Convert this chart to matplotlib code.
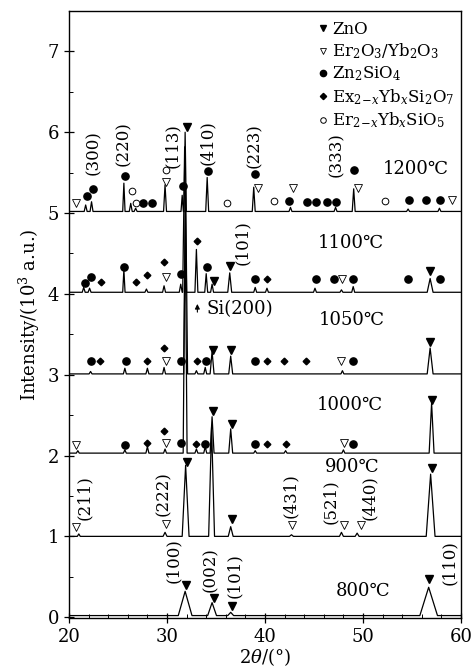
import matplotlib
matplotlib.use("Agg")
import matplotlib.pyplot as plt
from matplotlib.lines import Line2D
from matplotlib.ticker import MultipleLocator

plt.rcParams['font.family'] = ['DejaVu Serif', 'DejaVu Sans']
plt.rcParams['mathtext.fontset'] = 'dejavuserif'

# baselines of the stacked patterns (10^3 a.u.)
temps = ['800', '900', '1000', '1050', '1100', '1200']
baselines = [0.02, 1.00, 2.03, 3.01, 4.02, 5.02]

# peaks per pattern: (2theta, height above baseline, half width at base)
peaks_800 = [(31.85, 0.30, 0.70), (34.6, 0.16, 0.45), (36.5, 0.04, 0.30), (56.7, 0.35, 0.90)]
peaks_900 = [(21.0, 0.03, 0.15), (29.8, 0.05, 0.20), (31.9, 0.88, 0.35), (34.55, 1.35, 0.30),
             (36.5, 0.12, 0.25), (42.7, 0.02, 0.20), (47.8, 0.05, 0.20), (49.4, 0.04, 0.20),
             (56.9, 0.77, 0.45)]
peaks_1000 = [(20.9, 0.03, 0.15), (25.7, 0.04, 0.15), (28.0, 0.08, 0.15), (29.8, 0.05, 0.15),
              (31.85, 3.00, 0.20), (33.0, 0.05, 0.15), (33.9, 0.08, 0.15), (34.6, 0.45, 0.20),
              (36.5, 0.30, 0.20), (39.0, 0.03, 0.15), (42.1, 0.03, 0.15), (48.0, 0.04, 0.15),
              (57.0, 0.62, 0.25)]
peaks_1050 = [(22.2, 0.03, 0.15), (25.7, 0.07, 0.15), (28.0, 0.07, 0.15), (29.7, 0.08, 0.15),
              (31.9, 2.30, 0.20), (33.0, 0.04, 0.15), (33.9, 0.08, 0.15), (34.6, 0.28, 0.20),
              (36.5, 0.22, 0.20), (47.9, 0.04, 0.15), (56.85, 0.32, 0.30)]
peaks_1100 = [(21.5, 0.06, 0.15), (22.1, 0.05, 0.15), (25.6, 0.28, 0.12), (27.9, 0.04, 0.15),
              (29.7, 0.08, 0.15), (31.4, 0.10, 0.15), (31.8, 1.80, 0.20), (33.0, 0.53, 0.15),
              (34.0, 0.23, 0.15), (34.6, 0.10, 0.15), (36.4, 0.24, 0.20), (39.0, 0.06, 0.15),
              (40.2, 0.05, 0.15), (45.1, 0.05, 0.15), (47.8, 0.03, 0.15), (49.0, 0.07, 0.15),
              (56.85, 0.17, 0.30)]
peaks_1200 = [(21.7, 0.08, 0.15), (22.3, 0.12, 0.15), (25.6, 0.35, 0.12), (26.3, 0.10, 0.15),
              (26.8, 0.04, 0.15), (29.8, 0.33, 0.15), (31.55, 0.20, 0.12), (31.85, 0.98, 0.12),
              (34.1, 0.42, 0.15), (38.85, 0.30, 0.15), (42.6, 0.05, 0.15), (47.2, 0.05, 0.15),
              (49.05, 0.28, 0.15), (54.6, 0.03, 0.15), (57.8, 0.04, 0.15)]
all_peaks = [peaks_800, peaks_900, peaks_1000, peaks_1050, peaks_1100, peaks_1200]

# phase markers (2theta, intensity)
zno_pts = [(32.0, 6.06),
           (34.8, 4.16), (36.4, 4.34), (56.85, 4.28),
           (34.65, 3.30), (36.5, 3.30), (56.85, 3.40),
           (34.7, 2.55), (36.6, 2.39), (57.0, 2.69),
           (32.05, 1.92), (36.6, 1.21), (57.0, 1.84),
           (31.95, 0.40), (34.75, 0.24), (36.6, 0.14), (56.7, 0.47)]
er2o3_pts = [(20.7, 5.13), (29.9, 5.39), (39.3, 5.31), (42.9, 5.31), (49.45, 5.31), (59.05, 5.16),
             (29.9, 4.21), (47.9, 4.18),
             (29.9, 3.17), (47.8, 3.17),
             (20.7, 2.13), (29.9, 2.15), (48.1, 2.16),
             (20.7, 1.11), (29.9, 1.15), (42.8, 1.14), (48.1, 1.14), (49.8, 1.14)]
zn2sio4_pts = [(21.8, 5.21), (22.4, 5.30), (25.7, 5.46), (27.6, 5.13), (28.5, 5.13), (31.6, 5.33),
               (34.15, 5.52), (39.0, 5.48), (42.4, 5.15), (44.25, 5.14), (45.2, 5.14), (46.3, 5.14),
               (47.25, 5.14), (49.1, 5.53), (54.7, 5.16), (56.4, 5.16), (57.85, 5.16),
               (21.6, 4.14), (22.2, 4.21), (25.65, 4.33), (31.4, 4.24), (34.1, 4.33), (39.0, 4.18),
               (45.2, 4.18), (47.0, 4.18), (49.0, 4.18), (54.55, 4.18), (57.85, 4.18),
               (22.2, 3.17), (25.8, 3.17), (31.4, 3.17), (34.0, 3.17), (39.0, 3.17), (49.0, 3.17),
               (25.7, 2.13), (31.4, 2.15), (33.9, 2.14), (39.0, 2.14), (49.0, 2.14)]
disilicate_pts = [(23.3, 4.15), (26.8, 4.15), (28.0, 4.23), (29.7, 4.39), (33.1, 4.66), (40.2, 4.18),
                  (23.2, 3.17), (28.0, 3.17), (29.7, 3.33), (33.1, 3.17), (40.2, 3.17), (41.9, 3.17),
                  (44.2, 3.17),
                  (28.0, 2.15), (29.7, 2.30), (33.0, 2.14), (40.2, 2.14), (42.1, 2.14)]
monosilicate_pts = [(26.4, 5.27), (26.8, 5.13), (29.9, 5.53), (36.1, 5.13), (40.95, 5.15), (52.2, 5.15)]

# Miller index labels (text, 2theta, intensity)
hkl_labels = [('(300)', 22.55, 5.75), ('(220)', 25.6, 5.86), ('(113)', 30.6, 5.83),
              ('(410)', 34.1, 5.87), ('(223)', 38.9, 5.83), ('(333)', 47.25, 5.72),
              ('(101)', 37.7, 4.64),
              ('(211)', 21.6, 1.48), ('(222)', 29.6, 1.53), ('(431)', 42.6, 1.50),
              ('(521)', 46.7, 1.43), ('(440)', 50.7, 1.48),
              ('(100)', 30.7, 0.70), ('(002)', 34.4, 0.59), ('(101)', 36.9, 0.51),
              ('(110)', 58.8, 0.68)]
temp_label_pos = [(50.0, 0.32), (48.9, 1.86), (48.7, 2.63), (48.85, 3.68), (48.8, 4.63), (55.4, 5.55)]


def profile(base, peaks):
    xs, ys = [20.0], [base]
    for pos, h, w in sorted(peaks):
        xs += [pos - w, pos, pos + w]
        ys += [base, base + h, base]
    xs.append(60.0)
    ys.append(base)
    return xs, ys


fig = plt.figure(figsize=(4.71, 6.70), dpi=100)
ax = fig.add_axes([69 / 471, 1 - 618 / 670, 392 / 471, 607 / 670])

for base, pk in zip(baselines, all_peaks):
    xs, ys = profile(base, pk)
    ax.plot(xs, ys, color='k', lw=0.9)


def scatter(pts, **kw):
    ax.plot([p[0] for p in pts], [p[1] for p in pts], ls='none', color='k', **kw)


scatter(zno_pts, marker='v', ms=6)
scatter(er2o3_pts, marker='v', ms=5.5, mfc='white', mec='k', mew=0.6)
scatter(zn2sio4_pts, marker='o', ms=5.2)
scatter(disilicate_pts, marker='D', ms=3.4)
scatter(monosilicate_pts, marker='o', ms=4.8, mfc='white', mec='k', mew=0.7)

for txt, x, y in hkl_labels:
    ax.text(x, y, txt, rotation=90, ha='center', va='center', fontsize=12)

for t, (x, y) in zip(temps, temp_label_pos):
    ax.text(x, y, t + '\u2103', ha='center', va='center', fontsize=13)

ax.annotate('', xy=(33.1, 3.91), xytext=(33.1, 3.74),
            arrowprops=dict(arrowstyle='-|>', color='k', lw=0.8, mutation_scale=7))
ax.text(34.05, 3.81, 'Si(200)', ha='left', va='center', fontsize=13)

handles = [Line2D([], [], ls='none', marker='v', color='k', ms=5),
           Line2D([], [], ls='none', marker='v', color='k', mfc='white', ms=5, mew=0.6),
           Line2D([], [], ls='none', marker='o', color='k', ms=4.5),
           Line2D([], [], ls='none', marker='D', color='k', ms=3.2),
           Line2D([], [], ls='none', marker='o', color='k', mfc='white', ms=4, mew=0.7)]
labels = ['ZnO', 'Er$_2$O$_3$/Yb$_2$O$_3$', 'Zn$_2$SiO$_4$',
          'Ex$_{2\\!-\\!x}$Yb$_x$Si$_2$O$_7$', 'Er$_{2\\!-\\!x}$Yb$_x$SiO$_5$']
ax.legend(handles, labels, loc='upper right', bbox_to_anchor=(1.0, 0.995), frameon=False,
          fontsize=12, handlelength=0.6, handletextpad=0.25, labelspacing=0.22,
          borderaxespad=0.2, borderpad=0.2)

ax.set_xlim(20, 60)
ax.set_ylim(0 - 0.01, 7.5)
ax.xaxis.set_major_locator(MultipleLocator(10))
ax.xaxis.set_minor_locator(MultipleLocator(2))
ax.yaxis.set_major_locator(MultipleLocator(1))
ax.yaxis.set_minor_locator(MultipleLocator(0.5))
ax.tick_params(which='major', direction='inout', length=7, width=0.9, labelsize=13,
               top=False, right=False)
ax.tick_params(which='minor', direction='in', length=3, width=0.7, top=False, right=False)
for s in ax.spines.values():
    s.set_linewidth(1.0)

ax.set_xlabel('2$\\theta$/(\u00b0)', fontsize=13, labelpad=0)
ax.set_ylabel('Intensity/(10$^3$ a.u.)', fontsize=13, labelpad=4)

fig.savefig('out.png', dpi=100)
